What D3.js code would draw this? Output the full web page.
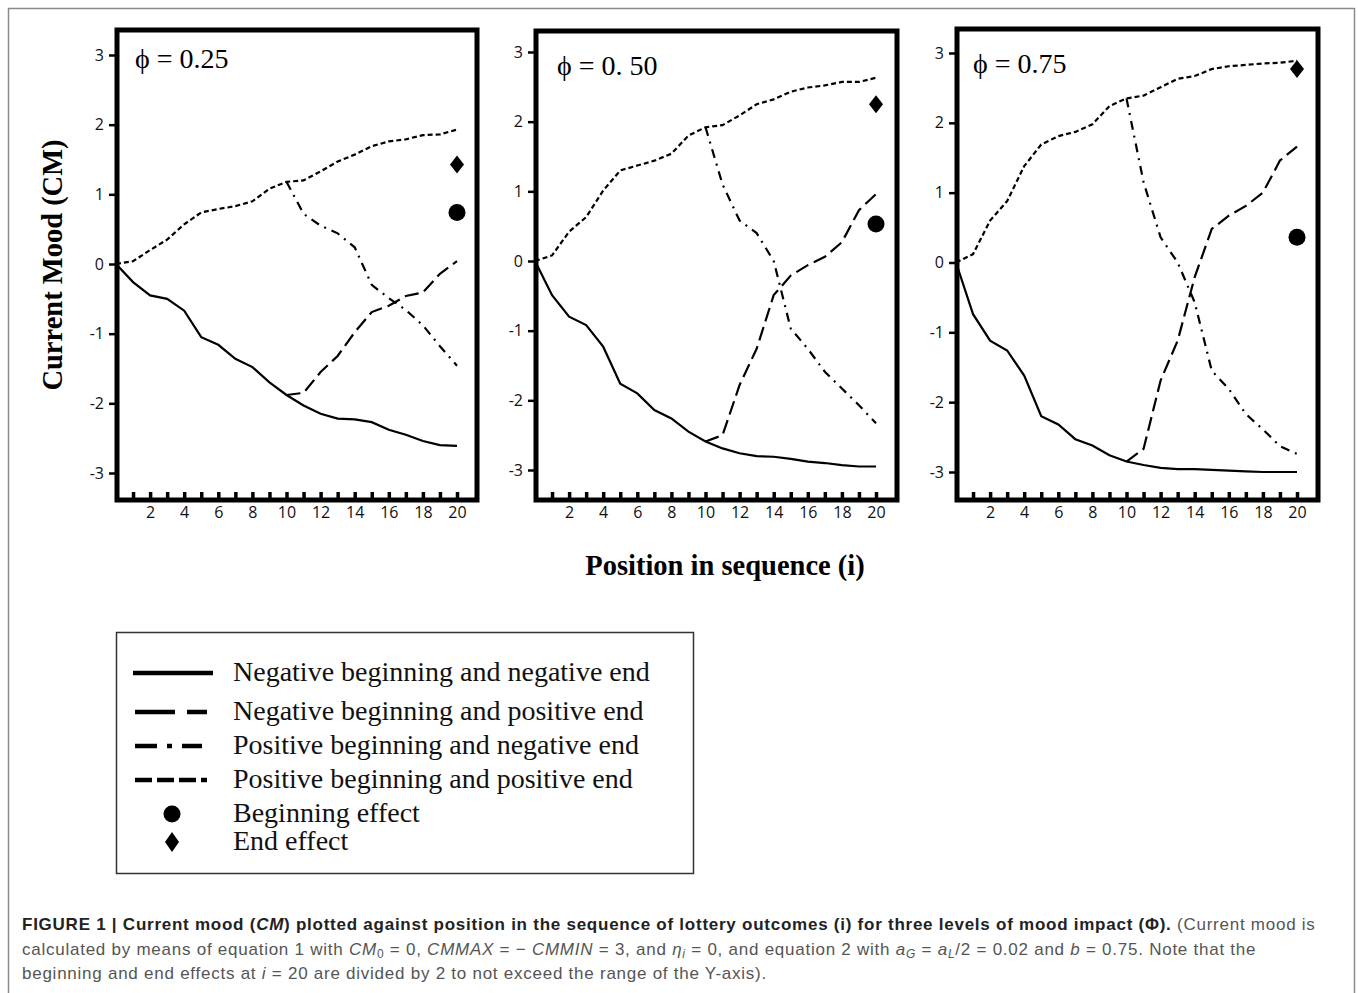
<!DOCTYPE html>
<html>
<head>
<meta charset="utf-8">
<script src="https://cdn.jsdelivr.net/npm/d3@7"></script>
<style>
  body { margin: 0; background: #fff; }
</style>
</head>
<body>
<div id="chart"></div>
<script>
// ---- data ----
const positions = [0,1,2,3,4,5,6,7,8,9,10,11,12,13,14,15,16,17,18,19,20]
const latePositions = [10,11,12,13,14,15,16,17,18,19,20]
const xTickValues = [1,2,3,4,5,6,7,8,9,10,11,12,13,14,15,16,17,18,19,20]
const yTickValues = [-3,-2,-1,0,1,2,3]
const phiLabels = ["ϕ = 0.25", "ϕ = 0. 50", "ϕ = 0.75"]

// phi = 0.25
const negNeg25 = [0,-0.26,-0.45,-0.5,-0.67,-1.05,-1.16,-1.36,-1.48,-1.70,-1.88,-2.03,-2.15,-2.22,-2.23,-2.27,-2.38,-2.45,-2.54,-2.60,-2.61]
const posPos25 = [0,0.04,0.2,0.35,0.57,0.74,0.79,0.83,0.9,1.08,1.18,1.2,1.33,1.47,1.57,1.69,1.76,1.79,1.85,1.86,1.93]
const posNeg25 = [1.18,0.72,0.55,0.44,0.24,-0.3,-0.49,-0.66,-0.88,-1.18,-1.46]
const negPos25 = [-1.88,-1.85,-1.55,-1.32,-0.98,-0.69,-0.6,-0.46,-0.41,-0.14,0.04]

// phi = 0.50
const negNeg50 = [0,-0.49,-0.8,-0.92,-1.23,-1.76,-1.90,-2.14,-2.26,-2.45,-2.59,-2.69,-2.76,-2.8,-2.81,-2.84,-2.88,-2.9,-2.93,-2.95,-2.95]
const posPos50 = [0,0.08,0.42,0.63,1.01,1.3,1.37,1.44,1.54,1.8,1.92,1.95,2.09,2.25,2.32,2.43,2.49,2.52,2.57,2.57,2.63]
const posNeg50 = [1.92,1.1,0.58,0.4,0.0,-0.97,-1.26,-1.59,-1.83,-2.07,-2.33]
const negPos50 = [-2.59,-2.5,-1.78,-1.26,-0.49,-0.21,-0.06,0.06,0.27,0.73,0.96]

// phi = 0.75
const negNeg75 = [0,-0.74,-1.12,-1.26,-1.62,-2.2,-2.32,-2.53,-2.62,-2.76,-2.85,-2.9,-2.94,-2.96,-2.96,-2.97,-2.98,-2.99,-3.0,-3.0,-3.0]
const posPos75 = [0,0.12,0.6,0.88,1.38,1.69,1.81,1.87,1.98,2.24,2.35,2.39,2.51,2.63,2.67,2.77,2.81,2.83,2.85,2.86,2.89]
const posNeg75 = [2.35,1.15,0.36,0.0,-0.57,-1.55,-1.81,-2.17,-2.39,-2.63,-2.74]
const negPos75 = [-2.85,-2.67,-1.69,-1.12,-0.21,0.48,0.67,0.81,1.0,1.46,1.66]

const beginEffect = [0.74, 0.53, 0.36]
const endEffect = [1.43, 2.25, 2.77]

const legendLabels = [
  "Negative beginning and negative end",
  "Negative beginning and positive end",
  "Positive beginning and negative end",
  "Positive beginning and positive end",
  "Beginning effect",
  "End effect"
]

const series = [
  { nn: negNeg25, pp: posPos25, pn: posNeg25, np: negPos25 },
  { nn: negNeg50, pp: posPos50, pn: posNeg50, np: negPos50 },
  { nn: negNeg75, pp: posPos75, pn: posNeg75, np: negPos75 }
]

// ---- layout ----
const W = 1358, H = 993
const SERIF = "'Liberation Serif', 'Times New Roman', serif"
const TICKFONT = "'Open Sans', 'Lato', sans-serif"

const PANELS = [
  { left: 117, top: 30, right: 477, bottom: 500, x0: 116, x20: 457, y3: 55, yn3: 473, lx: 135, ly: 68 },
  { left: 536, top: 31, right: 897, bottom: 500, x0: 535, x20: 876, y3: 52, yn3: 470, lx: 557, ly: 75 },
  { left: 957, top: 29, right: 1318, bottom: 500, x0: 956, x20: 1297, y3: 53, yn3: 472, lx: 973, ly: 73 }
]

// line styles: solid, long dash, dash-dot, short dash
const DASH = { nn: null, np: "14,6", pn: "9,6,2,6", pp: "5,3" }

const svg = d3.select("#chart").append("svg")
  .attr("width", W)
  .attr("height", H)

// outer figure frame
svg.append("rect")
  .attr("x", 8.5).attr("y", 8.5)
  .attr("width", 1346).attr("height", 1000)
  .attr("fill", "none")
  .attr("stroke", "#8a8a8a")
  .attr("stroke-width", 1.5)

PANELS.forEach((p, k) => {
  const x = d3.scaleLinear().domain([0, 20]).range([p.x0, p.x20])
  const y = d3.scaleLinear().domain([-3, 3]).range([p.yn3, p.y3])
  const g = svg.append("g")

  // y axis (ticks outside, left)
  const yAxis = g.append("g")
    .attr("transform", `translate(${p.left},0)`)
    .call(d3.axisLeft(y).tickValues(yTickValues).tickSize(8).tickPadding(5).tickFormat(d => String(d)))
  yAxis.select(".domain").remove()
  yAxis.selectAll(".tick line").attr("stroke", "#000").attr("stroke-width", 2.5)
  yAxis.selectAll("text").attr("font-family", TICKFONT).attr("font-size", 16).attr("fill", "#111")

  // x axis (ticks inside, pointing up)
  const xAxis = g.append("g")
    .attr("transform", `translate(0,${p.bottom})`)
    .call(d3.axisBottom(x).tickValues(xTickValues).tickSize(-8).tickPadding(7).tickFormat(d => d % 2 === 0 ? d : ""))
  xAxis.select(".domain").remove()
  xAxis.selectAll(".tick line").attr("stroke", "#000").attr("stroke-width", 3.5)
  xAxis.selectAll("text").attr("font-family", TICKFONT).attr("font-size", 16).attr("fill", "#111")

  // frame
  g.append("rect")
    .attr("x", p.left).attr("y", p.top)
    .attr("width", p.right - p.left).attr("height", p.bottom - p.top)
    .attr("fill", "none")
    .attr("stroke", "#000")
    .attr("stroke-width", 5)

  const s = series[k]
  const line = d3.line().x(d => x(d[0])).y(d => y(d[1]))
  const full = vals => positions.map((pos, i) => [pos, vals[i]])
  const late = vals => latePositions.map((pos, i) => [pos, vals[i]])

  const paths = [
    { key: "nn", pts: full(s.nn) },
    { key: "pp", pts: full(s.pp) },
    { key: "pn", pts: late(s.pn) },
    { key: "np", pts: late(s.np) }
  ]
  g.selectAll("path.series")
    .data(paths)
    .join("path")
      .attr("class", "series")
      .attr("d", d => line(d.pts))
      .attr("fill", "none")
      .attr("stroke", "#000")
      .attr("stroke-width", 2.2)
      .attr("stroke-dasharray", d => DASH[d.key])

  // beginning effect (circle) and end effect (diamond) at i = 20
  g.append("circle")
    .attr("cx", x(20)).attr("cy", y(beginEffect[k]))
    .attr("r", 8.5)
    .attr("fill", "#000")

  const dx = x(20), dy = y(endEffect[k])
  g.append("path")
    .attr("d", `M${dx},${dy - 9}L${dx + 7},${dy}L${dx},${dy + 9}L${dx - 7},${dy}Z`)
    .attr("fill", "#000")

  g.append("text")
    .attr("x", p.lx).attr("y", p.ly)
    .attr("font-family", SERIF)
    .attr("font-size", 28)
    .text(phiLabels[k])
})

// axis titles
svg.append("text")
  .attr("transform", "translate(62,265) rotate(-90)")
  .attr("text-anchor", "middle")
  .attr("font-family", SERIF)
  .attr("font-weight", "bold")
  .attr("font-size", 28.5)
  .text("Current Mood (CM)")

svg.append("text")
  .attr("x", 725).attr("y", 575)
  .attr("text-anchor", "middle")
  .attr("font-family", SERIF)
  .attr("font-weight", "bold")
  .attr("font-size", 28.5)
  .text("Position in sequence (i)")

// legend
const legend = svg.append("g")
legend.append("rect")
  .attr("x", 116.5).attr("y", 632.5)
  .attr("width", 577).attr("height", 241)
  .attr("fill", "none")
  .attr("stroke", "#333")
  .attr("stroke-width", 1.5)

const legendY = [673, 712, 746, 780, 814, 842]
const legendDash = [null, "40,12,20", "22,10,5,10,20", "17,5", null, null]
legendLabels.forEach((lab, i) => {
  const ly = legendY[i]
  if (i < 4) {
    legend.append("line")
      .attr("x1", i === 0 ? 133 : 135).attr("x2", i === 0 ? 213 : 207)
      .attr("y1", ly).attr("y2", ly)
      .attr("stroke", "#000")
      .attr("stroke-width", 4.5)
      .attr("stroke-dasharray", legendDash[i])
  } else if (i === 4) {
    legend.append("circle").attr("cx", 172).attr("cy", ly).attr("r", 8.5).attr("fill", "#000")
  } else {
    legend.append("path")
      .attr("d", `M172,${ly - 10}L179,${ly}L172,${ly + 10}L165,${ly}Z`)
      .attr("fill", "#000")
  }
  legend.append("text")
    .attr("x", 233).attr("y", ly + 8)
    .attr("font-family", SERIF)
    .attr("font-size", 28)
    .attr("fill", "#111")
    .text(lab)
})

// caption
const captionLines = [
  [["FIGURE 1 | Current mood (", "b"], ["CM", "bi"], [") plotted against position in the sequence of lottery outcomes (i) for three levels of mood impact (Φ).", "b"], [" (Current mood is", "n"]],
  [["calculated by means of equation 1 with ", "n"], ["CM", "i"], ["0", "sub"], [" = 0, ", "n"], ["CMMAX", "i"], [" = − ", "n"], ["CMMIN", "i"], [" = 3, and ", "n"], ["η", "i"], ["i", "isub"], [" = 0, and equation 2 with ", "n"], ["a", "i"], ["G", "isub"], [" = ", "n"], ["a", "i"], ["L", "isub"], ["/2 = 0.02 and ", "n"], ["b", "i"], [" = 0.75. Note that the", "n"]],
  [["beginning and end effects at ", "n"], ["i", "i"], [" = 20 are divided by 2 to not exceed the range of the Y-axis).", "n"]]
]
const captionY = [930, 955, 979]
captionLines.forEach((segs, li) => {
  const t = svg.append("text")
    .attr("x", 22).attr("y", captionY[li])
    .attr("font-family", "'Liberation Sans', Arial, sans-serif")
    .attr("font-size", 17)
    .attr("letter-spacing", 0.75)
    .attr("fill", "#555")
  segs.forEach(([txt, st]) => {
    const ts = t.append("tspan").text(txt)
    if (st === "b" || st === "bi") ts.attr("font-weight", "bold").attr("fill", "#222")
    if (st === "i" || st === "bi" || st === "isub") ts.attr("font-style", "italic")
    if (st === "sub" || st === "isub") ts.attr("font-size", 12).attr("baseline-shift", "-25%")
  })
})
</script>
</body>
</html>
